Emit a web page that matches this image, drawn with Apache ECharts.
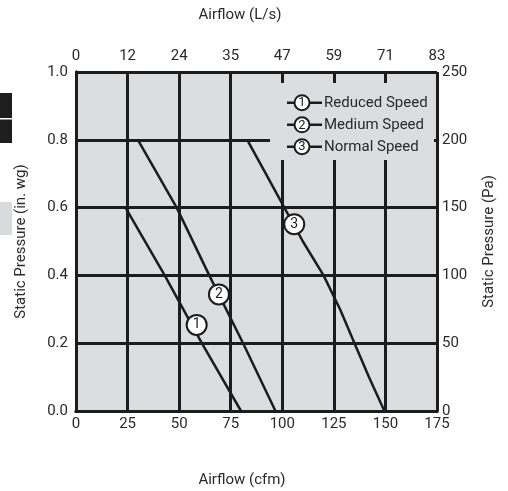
<!DOCTYPE html>
<html>
<head>
<meta charset="utf-8">
<script src="https://cdn.jsdelivr.net/npm/echarts@6/dist/echarts.min.js"></script>
<style>html,body{margin:0;padding:0;background:#fff;}#c{width:508px;height:491px;}</style>
</head>
<body>
<div id="c"></div>
<script>
// ---- data ----
const cfmTicks = [0, 25, 50, 75, 100, 125, 150, 175];
const lpsLabels = ['0', '12', '24', '35', '47', '59', '71', '83'];
const seriesNames = ['Reduced Speed', 'Medium Speed', 'Normal Speed'];
const reducedCfm = [24, 43, 61, 80];
const reducedWg = [0.6, 0.4, 0.2, 0.0];
const mediumCfm = [30, 48.8, 64.6, 81, 96.7];
const mediumWg = [0.8, 0.6, 0.4, 0.2, 0.0];
const normalCfm = [83, 92, 101, 110, 120, 128, 135, 142, 149.5];
const normalWg = [0.8, 0.7, 0.6, 0.5, 0.4, 0.3, 0.2, 0.1, 0.0];
const markerCfm = [58.5, 69.3, 105.8];
const markerWg = [0.254, 0.344, 0.551];
const markerText = ['1', '2', '3'];

const FONT = 'Roboto';
const INK = '#1c1c1c';
const TXT = '#2a2a2a';
const BG = '#dcdddf';

const zip = (xs, ys) => xs.map((x, i) => [x, ys[i]]);
const lineSeries = (name, xs, ys) => ({
  name, type: 'line', data: zip(xs, ys), showSymbol: false, symbol: 'none',
  lineStyle: { color: INK, width: 2.5 }, z: 3, animation: false
});

const chart = echarts.init(document.getElementById('c'), null, { renderer: 'canvas' });

const legendEls = [];
legendEls.push({ type: 'rect', shape: { x: 270, y: 83, width: 164, height: 77 }, style: { fill: BG }, z: 50 });
const rowsY = [102.7, 124.8, 146.7];
seriesNames.forEach((n, i) => {
  const y = rowsY[i];
  legendEls.push({ type: 'line', shape: { x1: 287, y1: y, x2: 322, y2: y }, style: { stroke: INK, lineWidth: 2.5 }, z: 51 });
  legendEls.push({ type: 'circle', shape: { cx: 302, cy: y, r: 7.5 }, style: { fill: '#fff', stroke: INK, lineWidth: 2 }, z: 52 });
  legendEls.push({ type: 'text', x: 302, y: y + 0.5, style: { text: markerText[i], font: '13px ' + FONT, fill: INK, align: 'center', verticalAlign: 'middle' }, z: 53 });
  legendEls.push({ type: 'text', x: 324, y: y + 0.5, style: { text: n, font: '15px ' + FONT, fill: TXT, align: 'left', verticalAlign: 'middle' }, z: 53 });
});

const option = {
  animation: false,
  backgroundColor: '#fff',
  textStyle: { fontFamily: FONT },
  grid: { left: 76, top: 72, width: 361, height: 339, show: true, backgroundColor: BG, borderWidth: 0 },
  xAxis: [
    {
      type: 'value', position: 'bottom', min: 0, max: 175, interval: 25,
      axisLine: { show: true, lineStyle: { color: INK, width: 3 } },
      axisTick: { show: false },
      axisLabel: { fontSize: 15, color: TXT, margin: 6, fontFamily: FONT },
      splitLine: { show: true, lineStyle: { color: INK, width: 3 } }
    },
    {
      type: 'value', position: 'top', min: 0, max: 175, interval: 25,
      axisLine: { show: true, lineStyle: { color: INK, width: 3 } },
      axisTick: { show: false },
      axisLabel: { fontSize: 15, color: TXT, margin: 8, fontFamily: FONT,
        formatter: v => lpsLabels[cfmTicks.indexOf(v)] },
      splitLine: { show: false }
    }
  ],
  yAxis: [
    {
      type: 'value', position: 'left', min: 0, max: 1.0, interval: 0.2,
      name: 'Static Pressure (in. wg)', nameLocation: 'middle', nameGap: 47,
      nameTextStyle: { fontSize: 15, color: TXT, fontFamily: FONT },
      axisLine: { show: true, lineStyle: { color: INK, width: 3 } },
      axisTick: { show: false },
      axisLabel: { fontSize: 15, color: TXT, margin: 8, fontFamily: FONT, formatter: v => v.toFixed(1) },
      splitLine: { show: true, lineStyle: { color: INK, width: 3 } }
    },
    {
      type: 'value', position: 'right', min: 0, max: 250, interval: 50,
      name: 'Static Pressure (Pa)', nameLocation: 'middle', nameGap: 45,
      nameTextStyle: { fontSize: 15, color: TXT, fontFamily: FONT },
      axisLine: { show: true, lineStyle: { color: INK, width: 3 } },
      axisTick: { show: false },
      axisLabel: { fontSize: 15, color: TXT, margin: 5, fontFamily: FONT },
      splitLine: { show: false }
    }
  ],
  graphic: [
    { type: 'rect', shape: { x: 0, y: 93, width: 12, height: 25 }, style: { fill: '#1e1e1e' } },
    { type: 'rect', shape: { x: 0, y: 119.5, width: 12, height: 23.5 }, style: { fill: '#1e1e1e' } },
    { type: 'rect', shape: { x: 0, y: 202, width: 12, height: 33 }, style: { fill: '#d9dadc' } },
    { type: 'text', x: 240, y: 15.5, style: { text: 'Airflow (L/s)', font: '15px ' + FONT, fill: TXT, align: 'center', verticalAlign: 'middle' } },
    { type: 'text', x: 242, y: 480, style: { text: 'Airflow (cfm)', font: '15px ' + FONT, fill: TXT, align: 'center', verticalAlign: 'middle' } },
    ...legendEls
  ],
  series: [
    lineSeries(seriesNames[0], reducedCfm, reducedWg),
    lineSeries(seriesNames[1], mediumCfm, mediumWg),
    lineSeries(seriesNames[2], normalCfm, normalWg),
    {
      type: 'scatter', data: zip(markerCfm, markerWg), symbol: 'circle', symbolSize: 20, z: 5,
      itemStyle: { color: '#fff', borderColor: INK, borderWidth: 2, opacity: 1 },
      label: { show: true, position: 'inside', color: INK, fontSize: 14, fontFamily: FONT,
        formatter: p => markerText[p.dataIndex] },
      emphasis: { disabled: true }
    }
  ]
};
chart.setOption(option);
</script>
</body>
</html>
